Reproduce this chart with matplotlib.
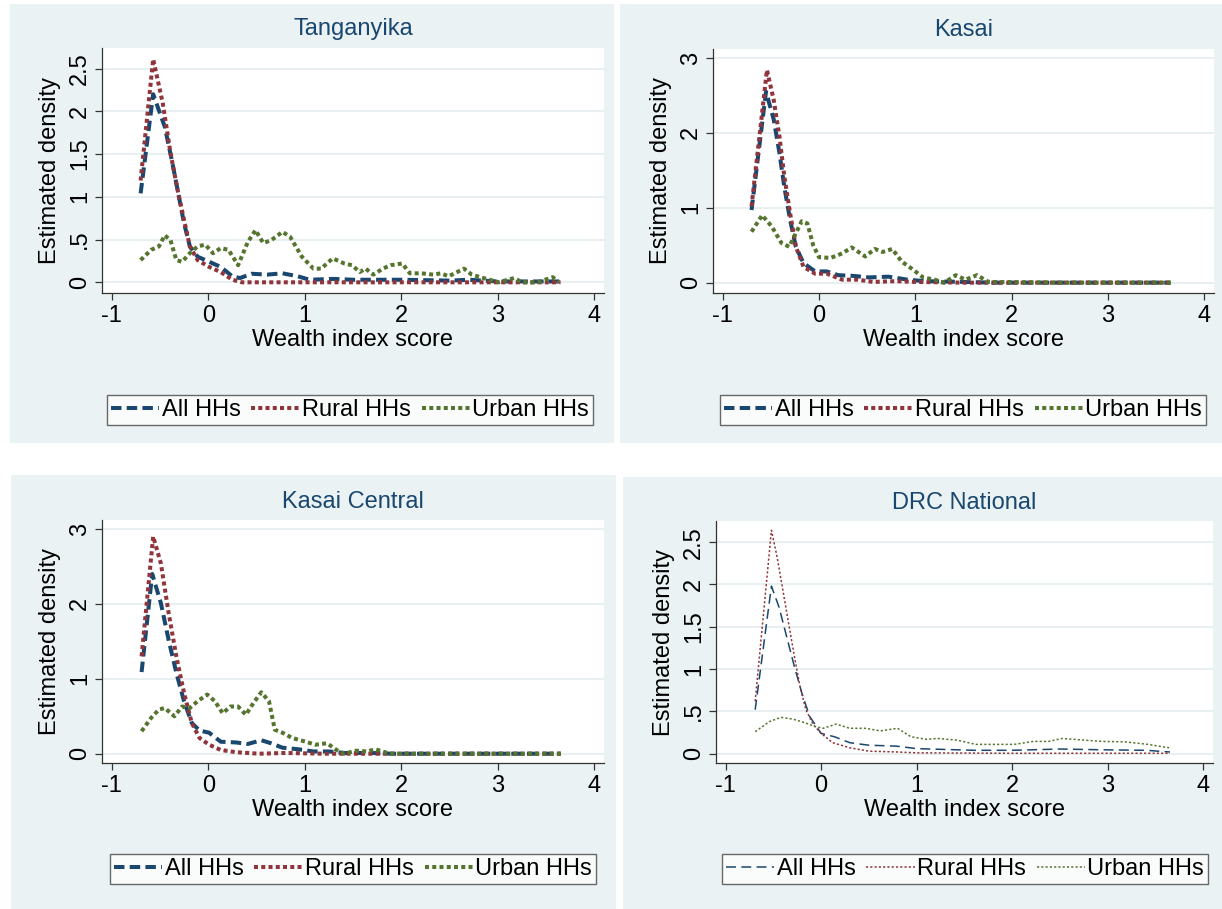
import matplotlib
matplotlib.use("Agg")
import matplotlib.pyplot as plt
from matplotlib.patches import Rectangle
from matplotlib.lines import Line2D

plt.rcParams['font.family'] = ['Liberation Sans', 'DejaVu Sans']

# ---------------- data ----------------
titles = ["Tanganyika", "Kasai", "Kasai Central", "DRC National"]
series_names = ["All HHs", "Rural HHs", "Urban HHs"]
ylabel_text = "Estimated density"
xlabel_text = "Wealth index score"
xticks_vals = [-1, 0, 1, 2, 3, 4]

tang_all_x = [-0.70, -0.57, -0.45, -0.37, -0.31, -0.25, -0.19, -0.11, 0.01, 0.13, 0.25, 0.33, 0.45, 0.61, 0.77, 0.93, 1.05, 1.3, 1.5, 2.0, 2.5, 2.7, 3.0, 3.65]
tang_all_y = [1.04, 2.20, 1.82, 1.39, 1.04, 0.69, 0.42, 0.30, 0.24, 0.18, 0.07, 0.05, 0.10, 0.09, 0.105, 0.07, 0.03, 0.04, 0.03, 0.03, 0.02, 0.03, 0.01, 0.01]
tang_rur_x = [-0.70, -0.57, -0.47, -0.39, -0.31, -0.25, -0.19, -0.11, 0.01, 0.13, 0.25, 0.35, 1.0, 2.0, 3.0, 3.65]
tang_rur_y = [1.19, 2.61, 2.09, 1.51, 1.04, 0.73, 0.42, 0.26, 0.18, 0.12, 0.03, 0.0, 0.0, 0.0, 0.0, 0.0]
tang_urb_x = [-0.70, -0.59, -0.51, -0.45, -0.39, -0.33, -0.27, -0.19, -0.11, -0.03, 0.05, 0.13, 0.21, 0.31, 0.41, 0.49, 0.57, 0.65, 0.77, 0.85, 0.97, 1.09, 1.17, 1.29, 1.41, 1.49, 1.57, 1.63, 1.71, 1.81, 1.89, 2.01, 2.09, 2.21, 2.33, 2.41, 2.49, 2.65, 2.73, 2.85, 3.01, 3.17, 3.25, 3.41, 3.57, 3.63]
tang_urb_y = [0.26, 0.38, 0.42, 0.55, 0.49, 0.26, 0.24, 0.34, 0.42, 0.44, 0.34, 0.40, 0.38, 0.20, 0.47, 0.61, 0.46, 0.49, 0.59, 0.53, 0.30, 0.16, 0.16, 0.28, 0.22, 0.20, 0.12, 0.16, 0.09, 0.16, 0.20, 0.22, 0.105, 0.105, 0.09, 0.105, 0.07, 0.16, 0.09, 0.05, 0.0, 0.05, 0.0, 0.0, 0.06, 0.0]

kas_all_x = [-0.70, -0.55, -0.47, -0.41, -0.36, -0.30, -0.24, -0.16, -0.04, 0.08, 0.20, 0.36, 0.52, 0.72, 0.92, 1.1, 1.5, 1.8, 2.5, 3.65]
kas_all_y = [0.97, 2.55, 2.18, 1.73, 1.28, 0.84, 0.48, 0.26, 0.15, 0.15, 0.10, 0.09, 0.07, 0.08, 0.04, 0.02, 0.01, 0.0, 0.0, 0.0]
kas_rur_x = [-0.70, -0.54, -0.47, -0.41, -0.36, -0.30, -0.24, -0.16, -0.04, 0.08, 0.24, 0.40, 0.56, 0.8, 1.0, 1.5, 2.5, 3.65]
kas_rur_y = [1.02, 2.84, 2.44, 1.95, 1.42, 0.93, 0.48, 0.21, 0.12, 0.12, 0.04, 0.04, 0.01, 0.02, 0.01, 0.0, 0.0, 0.0]
kas_urb_x = [-0.70, -0.59, -0.49, -0.39, -0.31, -0.24, -0.18, -0.12, -0.06, 0.0, 0.12, 0.24, 0.34, 0.48, 0.58, 0.66, 0.76, 0.86, 0.96, 1.08, 1.20, 1.30, 1.42, 1.52, 1.64, 1.76, 2.5, 3.65]
kas_urb_y = [0.68, 0.90, 0.75, 0.53, 0.48, 0.66, 0.82, 0.79, 0.50, 0.34, 0.33, 0.39, 0.47, 0.35, 0.45, 0.41, 0.45, 0.28, 0.19, 0.07, 0.04, 0.0, 0.10, 0.04, 0.10, 0.01, 0.0, 0.0]

kc_all_x = [-0.69, -0.58, -0.49, -0.41, -0.33, -0.25, -0.17, -0.09, 0.01, 0.13, 0.29, 0.41, 0.55, 0.65, 0.77, 0.93, 1.09, 1.25, 1.41, 1.7, 1.9, 3.65]
kc_all_y = [1.09, 2.40, 2.01, 1.52, 1.08, 0.70, 0.41, 0.31, 0.28, 0.16, 0.15, 0.13, 0.18, 0.14, 0.08, 0.06, 0.03, 0.03, 0.01, 0.01, 0.0, 0.0]
kc_rur_x = [-0.69, -0.57, -0.49, -0.41, -0.33, -0.25, -0.17, -0.09, 0.01, 0.13, 0.29, 0.53, 0.8, 1.2, 2.0, 3.65]
kc_rur_y = [1.30, 2.90, 2.54, 1.88, 1.30, 0.81, 0.41, 0.21, 0.12, 0.05, 0.02, 0.0, 0.01, 0.0, 0.0, 0.0]
kc_urb_x = [-0.69, -0.59, -0.51, -0.45, -0.35, -0.27, -0.19, -0.11, -0.01, 0.07, 0.15, 0.23, 0.31, 0.39, 0.47, 0.55, 0.63, 0.69, 0.77, 0.87, 1.01, 1.11, 1.23, 1.33, 1.41, 1.53, 1.65, 1.73, 1.83, 1.89, 3.67]
kc_urb_y = [0.30, 0.48, 0.59, 0.61, 0.50, 0.63, 0.61, 0.70, 0.79, 0.70, 0.54, 0.63, 0.63, 0.52, 0.68, 0.82, 0.70, 0.32, 0.28, 0.21, 0.16, 0.12, 0.14, 0.05, 0.0, 0.04, 0.03, 0.06, 0.02, 0.0, 0.0]

drc_all_x = [-0.69, -0.52, -0.44, -0.36, -0.28, -0.20, -0.12, 0.0, 0.14, 0.30, 0.50, 0.78, 1.0, 1.30, 1.6, 2.0, 2.5, 3.0, 3.4, 3.65]
drc_all_y = [0.52, 1.98, 1.73, 1.38, 1.03, 0.71, 0.44, 0.24, 0.20, 0.13, 0.10, 0.09, 0.06, 0.05, 0.04, 0.04, 0.055, 0.045, 0.04, 0.02]
drc_rur_x = [-0.69, -0.52, -0.46, -0.40, -0.34, -0.28, -0.22, -0.16, -0.08, 0.0, 0.12, 0.30, 0.50, 0.8, 1.0, 2.0, 3.0, 3.65]
drc_rur_y = [0.62, 2.64, 2.32, 1.93, 1.54, 1.15, 0.79, 0.52, 0.34, 0.24, 0.13, 0.07, 0.03, 0.02, 0.01, 0.005, 0.005, 0.005]
drc_urb_x = [-0.69, -0.54, -0.42, -0.30, -0.18, -0.06, 0.02, 0.16, 0.30, 0.46, 0.62, 0.80, 0.94, 1.10, 1.22, 1.42, 1.62, 1.82, 2.02, 2.22, 2.38, 2.52, 2.70, 2.94, 3.18, 3.42, 3.64]
drc_urb_y = [0.26, 0.38, 0.43, 0.41, 0.37, 0.32, 0.30, 0.35, 0.30, 0.30, 0.27, 0.30, 0.20, 0.17, 0.18, 0.16, 0.11, 0.11, 0.11, 0.145, 0.145, 0.18, 0.165, 0.145, 0.14, 0.11, 0.07]

tang_yticks = [0, 0.5, 1, 1.5, 2, 2.5]
kas_yticks = [0, 1, 2, 3]
kc_yticks = [0, 1, 2, 3]
drc_yticks = [0, 0.5, 1, 1.5, 2, 2.5]

# ---------------- style ----------------
W, H = 1222, 909
BG = "#EAF2F3"
GRID = "#E6EEF0"
NAVY = "#1A476F"
MAROON = "#90353B"
GREEN = "#55752F"
colors = [NAVY, MAROON, GREEN]
FS = 17

fig = plt.figure(figsize=(W / 100, H / 100), dpi=100)
fig.patch.set_facecolor("white")


def fx(px):
    return px / W


def fy(py):
    return 1 - py / H


# panel backgrounds (px: left, top, right, bottom)
panels_px = [(10, 4, 614, 443), (620, 4, 1222, 443), (11, 475, 616, 909), (623, 477, 1222, 909)]
for (l, t, r, b) in panels_px:
    fig.add_artist(Rectangle((fx(l), fy(b)), fx(r - l), (b - t) / H,
                             transform=fig.transFigure, facecolor=BG, edgecolor="none", zorder=0))

# axes rectangles (px: left, top, right, bottom)
axes_px = [(102, 48, 604, 293), (713, 49, 1214, 293), (102, 520, 604, 763), (716, 521, 1213, 763)]
ylims = [(-0.125, 2.74), (-0.138, 3.12), (-0.124, 3.12), (-0.11, 2.75)]
yticks_list = [tang_yticks, kas_yticks, kc_yticks, drc_yticks]
data = [
    [(tang_all_x, tang_all_y), (tang_rur_x, tang_rur_y), (tang_urb_x, tang_urb_y)],
    [(kas_all_x, kas_all_y), (kas_rur_x, kas_rur_y), (kas_urb_x, kas_urb_y)],
    [(kc_all_x, kc_all_y), (kc_rur_x, kc_rur_y), (kc_urb_x, kc_urb_y)],
    [(drc_all_x, drc_all_y), (drc_rur_x, drc_rur_y), (drc_urb_x, drc_urb_y)],
]
thick = [True, True, True, False]
legend_centers = [(350, 410), (963, 410), (353, 869), (965, 869)]


def fmt(v):
    s = ("%g" % v)
    if s.startswith("0."):
        s = s[1:]
    return s


for i in range(4):
    l, t, r, b = axes_px[i]
    ax = fig.add_axes([fx(l), fy(b), fx(r - l), (b - t) / H])
    ax.set_facecolor("white")
    ax.set_zorder(2)
    ax.set_xlim(-1.1, 4.1)
    ax.set_ylim(*ylims[i])
    ax.set_xticks(xticks_vals)
    ax.set_xticklabels([fmt(v) for v in xticks_vals], fontsize=FS)
    ax.set_yticks(yticks_list[i])
    ax.set_yticklabels([fmt(v) for v in yticks_list[i]], fontsize=FS, rotation=90, va="center")
    for yv in yticks_list[i]:
        ax.axhline(yv, color=GRID, lw=1.3, zorder=0)
    for s in ["top", "right"]:
        ax.spines[s].set_visible(False)
    for s in ["left", "bottom"]:
        ax.spines[s].set_color("#333333")
        ax.spines[s].set_linewidth(0.9)
    ax.tick_params(axis="both", direction="out", length=5, width=0.9, color="#333333", pad=4)
    ax.tick_params(axis="y", pad=3)

    if thick[i]:
        lw = 2.9
        styles = [(0, (2.6, 1.3)), (0, (1.0, 0.8)), (0, (1.0, 0.8))]
    else:
        lw = 1.1
        styles = [(0, (6.5, 3.5)), (0, (1.4, 1.4)), (0, (1.4, 1.4))]
    handles = []
    for k, (xs, ys) in enumerate(data[i]):
        ax.plot(xs, ys, color=colors[k], lw=lw, linestyle=styles[k],
                dash_capstyle="butt", solid_capstyle="butt", zorder=3 + k)
        handles.append(Line2D([], [], color=colors[k], lw=lw, linestyle=styles[k], dash_capstyle="butt"))

    ax.set_title(titles[i], fontsize=FS, color=NAVY, pad=9)
    ax.set_xlabel(xlabel_text, fontsize=FS, labelpad=1)
    ax.set_ylabel(ylabel_text, fontsize=FS, labelpad=6)

    cx, cy = legend_centers[i]
    leg = fig.legend(handles, series_names, loc="center", bbox_to_anchor=(fx(cx), fy(cy)),
                     bbox_transform=fig.transFigure, ncol=3, fontsize=FS, frameon=True,
                     fancybox=False, handlelength=2.05, handletextpad=0.1, columnspacing=0.45,
                     borderpad=0.15, borderaxespad=0)
    leg.get_frame().set_edgecolor("#444444")
    leg.get_frame().set_linewidth(1.0)
    leg.get_frame().set_facecolor("white")
    leg.set_zorder(5)

fig.savefig("out.png", dpi=100)
